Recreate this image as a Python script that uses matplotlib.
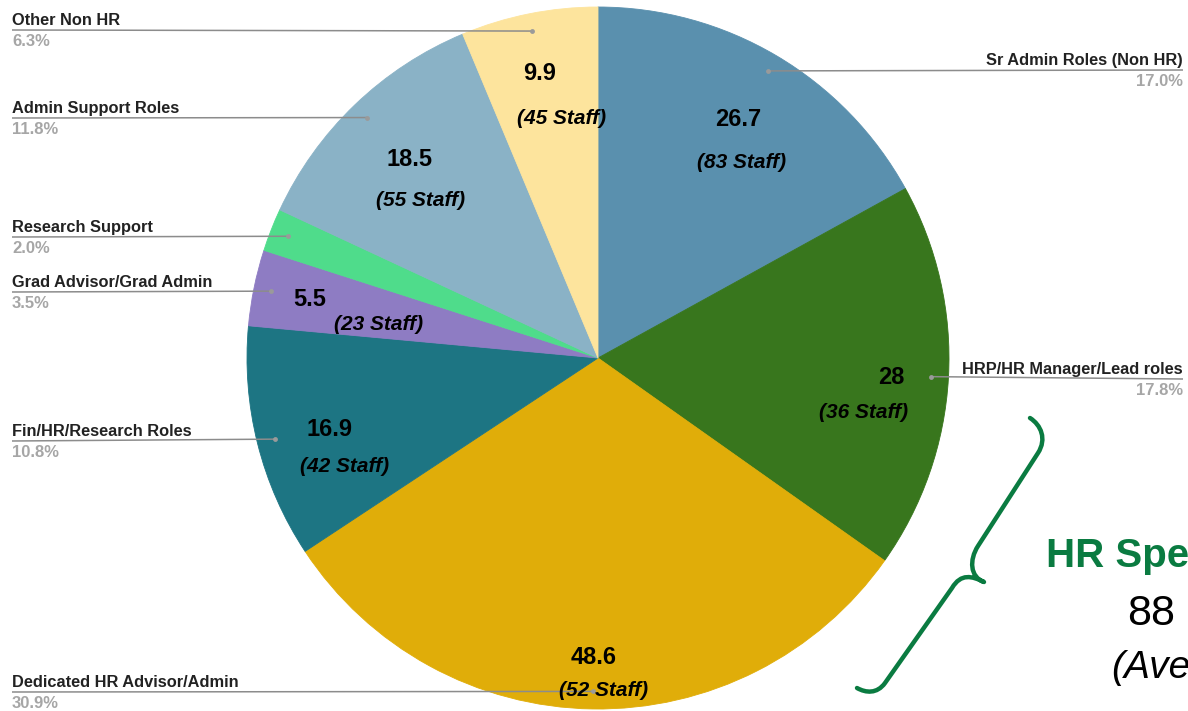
import matplotlib.pyplot as plt
from matplotlib.path import Path
from matplotlib.patches import PathPatch
import numpy as np

plt.rcParams['font.family'] = ['Liberation Sans', 'DejaVu Sans']

# slices clockwise from 12 o'clock
roles = ['Sr Admin Roles (Non HR)', 'HRP/HR Manager/Lead roles', 'Dedicated HR Advisor/Admin',
         'Fin/HR/Research Roles', 'Grad Advisor/Grad Admin', 'Research Support',
         'Admin Support Roles', 'Other Non HR']
fte = [26.7, 28, 48.6, 16.9, 5.5, 3.1, 18.5, 9.9]
staff = [83, 36, 52, 42, 23, None, 55, 45]
colors = ['#5a90ae', '#38761d', '#e0ad09', '#1d7583', '#8e7cc3', '#4fdc8b', '#8ab2c6', '#fde49d']

W, H = 1188, 711
CX, CY, R = 598, 358, 351


def fy(y):
    # pixel row -> data y
    return H - y


fig = plt.figure(figsize=(W / 100, H / 100), dpi=100)
ax = fig.add_axes([0, 0, 1, 1])

wedges, _ = ax.pie(fte, colors=colors, startangle=90, counterclock=False,
                   center=(CX, fy(CY)), radius=R, frame=True,
                   wedgeprops=dict(linewidth=0.6))
for w in wedges:
    w.set_edgecolor(w.get_facecolor())
ax.set_xlim(0, W)
ax.set_ylim(0, H)
ax.set_aspect('equal')
ax.axis('off')

pct = np.array(fte) / sum(fte) * 100

# in-slice value labels (value, staff count)
value_pos = [(738, 119), (891, 377), (594, 658), (329, 430), (310, 299), None, (410, 160), (540, 73)]
staff_pos = [(742, 163), (864, 412), (604, 690), (345, 466), (379, 325), None, (421, 201), (562, 119)]
for v, n, vp, sp in zip(fte, staff, value_pos, staff_pos):
    if vp is None:
        continue
    ax.text(vp[0], fy(vp[1]), f'{v:g}', ha='center', va='center',
            fontsize=17, fontweight='bold', color='black')
    ax.text(sp[0], fy(sp[1]), f'({n} Staff)', ha='center', va='center',
            fontsize=15, fontweight='bold', fontstyle='italic', color='black')

# leader labels: (side, row of the rule line)
leader = [('right', 70), ('right', 379), ('left', 692), ('left', 441),
          ('left', 292), ('left', 237), ('left', 118), ('left', 30)]
cum = np.cumsum([0] + list(pct))
for i, (side, ly) in enumerate(leader):
    mid = cum[i] + pct[i] / 2
    ang = np.deg2rad(90 - mid * 3.6)
    dx = CX + 0.95 * R * np.cos(ang)
    dy = fy(CY) + 0.95 * R * np.sin(ang)
    if side == 'left':
        x0, ha = 12, 'left'
    else:
        x0, ha = 1183, 'right'
    ax.plot([x0, dx], [fy(ly), dy], color='#8c8c8c', lw=1.1, solid_capstyle='butt')
    ax.plot(dx, dy, 'o', color='#9a9a9a', ms=3.5, mec='none')
    ax.text(x0, fy(ly - 2), roles[i], ha=ha, va='bottom',
            fontsize=11.8, fontweight='bold', color='#222222')
    ax.text(x0, fy(ly + 4), f'{pct[i]:.1f}%', ha=ha, va='top',
            fontsize=12, fontweight='bold', color='#a6a6a6')

# brace grouping the two HR specialist slices
brace = [
    ((1030, 418), Path.MOVETO),
    ((1041, 425), Path.CURVE4), ((1047, 439), Path.CURVE4), ((1038, 453), Path.CURVE4),
    ((978, 546), Path.LINETO),
    ((969, 560), Path.CURVE4), ((970, 577), Path.CURVE4), ((984, 582), Path.CURVE4),
    ((972, 576), Path.CURVE4), ((961, 573), Path.CURVE4), ((952, 588), Path.CURVE4),
    ((885, 683), Path.LINETO),
    ((877, 694), Path.CURVE4), ((866, 693), Path.CURVE4), ((857, 688), Path.CURVE4),
]
verts = [(x, fy(y)) for (x, y), _ in brace]
codes = [c for _, c in brace]
ax.add_patch(PathPatch(Path(verts, codes), facecolor='none', edgecolor='#0a7b41',
                       lw=3.2, capstyle='round', joinstyle='round'))

# side note, running off the right edge
ax.text(1046, fy(556), 'HR Spe', ha='left', va='center',
        fontsize=29, fontweight='bold', color='#0a7b41')
ax.text(1127, fy(614), '88', ha='left', va='center', fontsize=31, color='black')
ax.text(1111, fy(668), '(Ave', ha='left', va='center', fontsize=28,
        fontstyle='italic', color='black')

fig.savefig('out.png', dpi=100)
